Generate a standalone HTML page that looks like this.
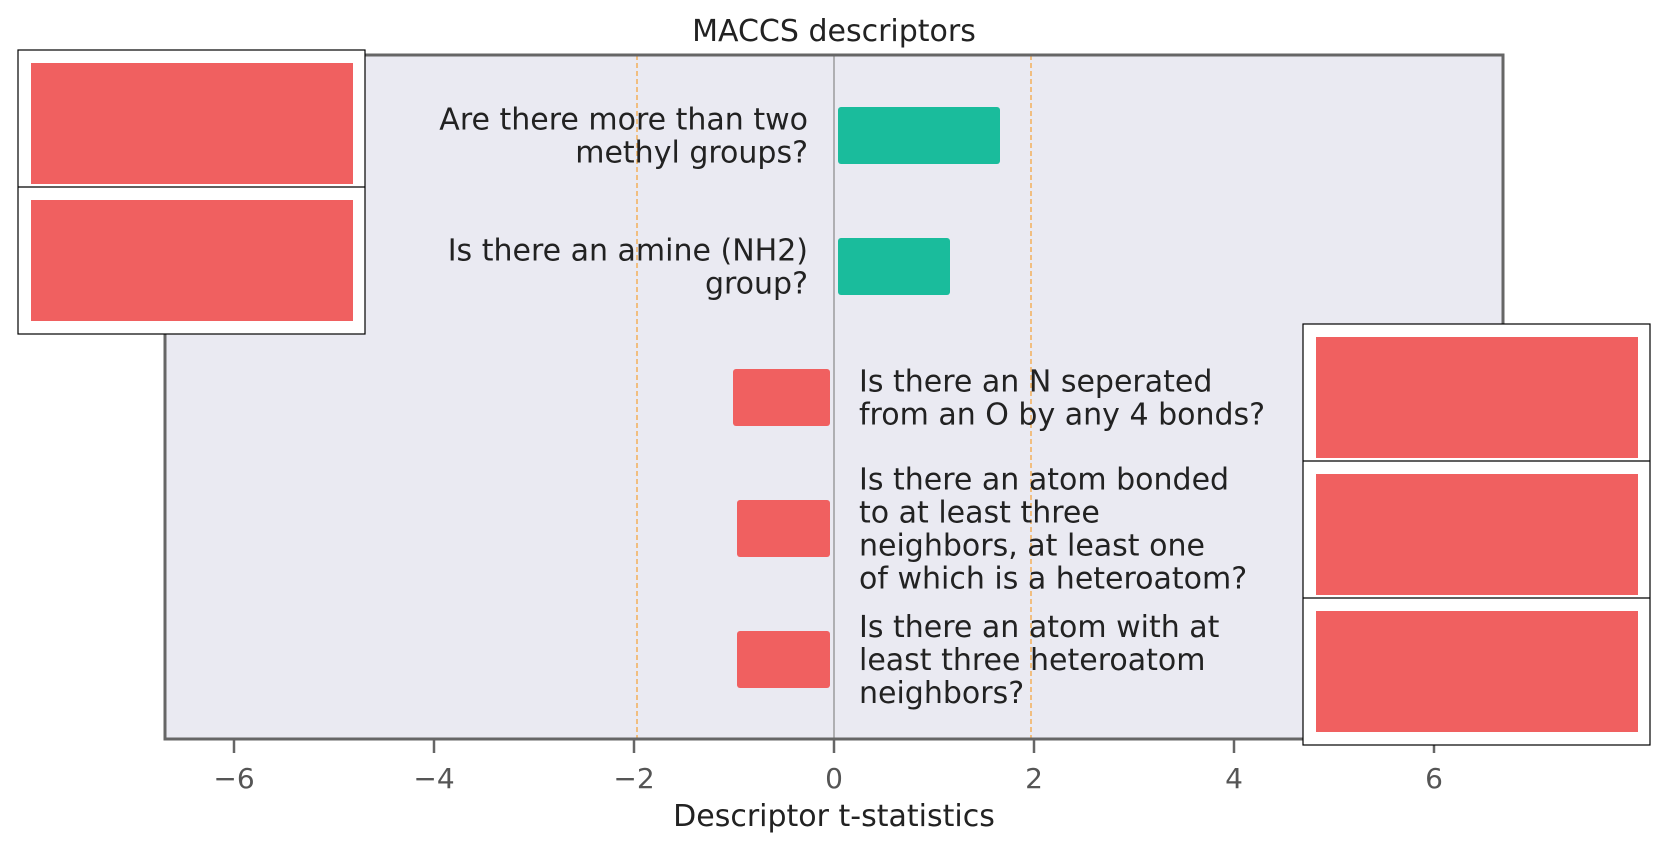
<!DOCTYPE html>
<html><head><meta charset="utf-8"><style>
body{margin:0;background:#fff;}
svg{display:block;font-family:"DejaVu Sans","Liberation Sans",sans-serif;}
</style></head><body>
<svg id="c" width="1668" height="849"></svg>
<script>
const labels=[["Are there more than two","methyl groups?"],["Is there an amine (NH2)","group?"],["Is there an N seperated","from an O by any 4 bonds?"],["Is there an atom bonded","to at least three","neighbors, at least one","of which is a heteroatom?"],["Is there an atom with at","least three heteroatom","neighbors?"]];
const values=[1.66,1.16,-1.01,-0.97,-0.97];
const ticks=[-6,-4,-2,0,2,4,6];
const thresholds=[-1.97,1.97];
const NS="http://www.w3.org/2000/svg";
const svg=document.getElementById('c');
const L=165,R=1503,T=55,B=739,X0=-6.69,X1=6.69;
const xs=v=>L+(v-X0)/(X1-X0)*(R-L);
const yc=i=>135+i*131;
function el(t,a,p){const e=document.createElementNS(NS,t);for(const k in a)e.setAttribute(k,a[k]);(p||svg).appendChild(e);return e;}
let e;
e=el('rect',{x:L,y:T,width:R-L,height:B-T,fill:'#eaeaf2'});

thresholds.forEach(v=>{e=el('line',{x1:xs(v),x2:xs(v),y1:T,y2:B,stroke:'#f5a742','stroke-width':1.3,'stroke-dasharray':'5,3'});
});
e=el('line',{x1:xs(0),x2:xs(0),y1:T,y2:B,stroke:'#888','stroke-width':1.2});

values.forEach((v,i)=>{
 const a=v>=0?xs(0)+4:xs(v), b=v>=0?xs(v):xs(0)-4;
 e=el('rect',{x:a,y:yc(i)-28,width:b-a,height:57,rx:3,fill:v>=0?'#1abc9c':'#f06060'});
 
 const ls=labels[i],n=ls.length;
 const t=el('text',{'font-size':30,fill:'#222','text-anchor':v>=0?'end':'start'});
 
 ls.forEach((s,j)=>{const ts=el('tspan',{x:v>=0?xs(0)-26:xs(0)+25,y:yc(i)+(j-(n-1)/2)*33+11},t);ts.textContent=s;});
});
e=el('rect',{x:L,y:T,width:R-L,height:B-T,fill:'none',stroke:'#666','stroke-width':3});

ticks.forEach(v=>{
 e=el('line',{x1:xs(v),x2:xs(v),y1:B,y2:B+14,stroke:'#666','stroke-width':2.5});
 
 e=el('text',{x:xs(v),y:B+49,'font-size':28,fill:'#555','text-anchor':'middle'});
 e.textContent=(v<0?'\u2212':'')+Math.abs(v);
 
});
e=el('text',{x:834,y:826,'font-size':30,fill:'#222','text-anchor':'middle'});e.textContent='Descriptor t-statistics';

e=el('text',{x:834,y:41,'font-size':30,fill:'#222','text-anchor':'middle'});e.textContent='MACCS descriptors';

function box(x,y,w,cells,h,name){
 e=el('rect',{x:x,y:y,width:w,height:cells*h+10,fill:'#fff',stroke:'#000','stroke-width':1.2});
 
 for(let k=0;k<cells;k++){
  if(k>0){e=el('line',{x1:x,x2:x+w,y1:y+k*h,y2:y+k*h,stroke:'#000','stroke-width':1.2});
   }
  e=el('rect',{x:x+13,y:y+k*h+13,width:w-25,height:h-16,fill:'#f06060'});
  
 }
}
box(18,50,347,2,137,'left-image-box');
box(1303,324,347,3,137,'right-image-box');
</script>
</body></html>
